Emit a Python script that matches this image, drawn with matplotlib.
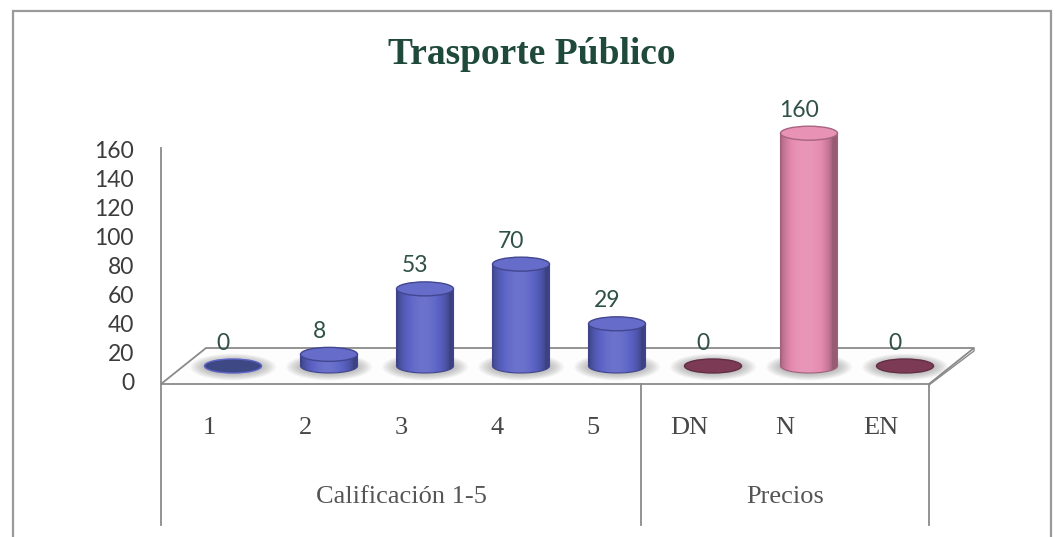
import numpy as np
import matplotlib
matplotlib.use("Agg")
import matplotlib.pyplot as plt
from matplotlib.patches import Ellipse, Polygon, Rectangle, PathPatch
from matplotlib.path import Path
import matplotlib.colors as mcolors

# ---- data -------------------------------------------------------------
categories = ["1", "2", "3", "4", "5", "DN", "N", "EN"]
values = [0, 8, 53, 70, 29, 0, 160, 0]
group_names = ["Calificación 1-5", "Precios"]
group_sizes = [5, 3]
y_ticks = [0, 20, 40, 60, 80, 100, 120, 140, 160]
title = "Trasporte Público"

# ---- canvas / coordinate helpers -------------------------------------
W, H = 1057, 537
fig = plt.figure(figsize=(W / 100, H / 100), dpi=100)
fig.patch.set_facecolor("white")
ax = fig.add_axes([0, 0, 1, 1])
ax.set_axis_off()

X0, DXP = 209.0, 96.0      # pixel x of first category, pixels per category
Y0, DYP = 384.0, 1.455     # pixel y of value 0, pixels per value unit


def px(x):
    return (x - X0) / DXP


def py(y):
    return (Y0 - y) / DYP


def pw(w):
    return w / DXP


def ph(h):
    return h / DYP


XLIM = (px(0), px(W))
YLIM = (py(H), py(0))

n = len(categories)
left_edge, right_edge = -0.5, n - 0.5
depth_x, depth_y = pw(45), ph(36)

line_col = "#8a8a8a"

# ---- floor -----------------------------------------------------------
floor = Polygon([(left_edge, 0), (left_edge + depth_x, depth_y),
                 (right_edge + depth_x, depth_y), (right_edge, 0)],
                closed=True, facecolor="#fdfdfd", edgecolor=line_col,
                linewidth=1.3, zorder=1)
ax.add_patch(floor)
# thin slab edge at the right end of the floor
ax.plot([right_edge + depth_x, right_edge + depth_x, right_edge],
        [depth_y, depth_y - ph(3), -ph(1)], color=line_col, lw=1.0, zorder=1)

# vertical axis line and category separators
ax.plot([left_edge, left_edge], [py(148), py(525)], color=line_col, lw=1.3, zorder=2)
bounds = np.cumsum(group_sizes) - 0.5
for b in bounds:
    ax.plot([b, b], [0, py(525)], color=line_col, lw=1.3, zorder=2)

# y tick labels
num_font = "Lato"
for t in y_ticks:
    ax.text(px(134), t, str(t), ha="right", va="center", fontsize=16.5,
            family=num_font, color="#3c3c3c")

# category labels
serif = "Liberation Serif"
for i, c in enumerate(categories):
    ax.text(i, py(434), c, ha="center", va="baseline", fontsize=19,
            family=serif, color="#474747")
start = 0
for g, size in zip(group_names, group_sizes):
    ax.text(start + (size - 1) / 2, py(503), g, ha="center", va="baseline",
            fontsize=19, family=serif, color="#555555")
    start += size

# ---- cylinders ---------------------------------------------------------
shift_x = pw(24)
base = ph(18)
cw = pw(57)
eh = ph(14)

blue = mcolors.to_rgb("#5b63c6")
pink = mcolors.to_rgb("#e68bb0")
blue_dark = mcolors.to_rgb("#3e4884")
pink_dark = mcolors.to_rgb("#7c3a55")

group_of = []
for gi, size in enumerate(group_sizes):
    group_of += [gi] * size


def shade_strip(rgb, m=96):
    t = np.linspace(0, 1, m)
    f = 0.66 + 0.44 * np.sin(np.pi * np.clip(t * 1.08, 0, 1)) ** 0.6
    rgb = np.array(rgb)
    col = np.where(f[:, None] <= 1, rgb[None, :] * f[:, None],
                   rgb[None, :] + (1 - rgb[None, :]) * (f[:, None] - 1))
    return np.clip(col, 0, 1)[None, :, :]


def lighten(rgb, k):
    rgb = np.array(rgb)
    return tuple(rgb + (1 - rgb) * k)


def darken(rgb, k):
    return tuple(np.array(rgb) * (1 - k))


for i, v in enumerate(values):
    xc = i + shift_x
    a, b = cw / 2, eh / 2
    main = blue if group_of[i] == 0 else pink
    dark = blue_dark if group_of[i] == 0 else pink_dark

    # soft shadow on the floor
    for s in np.linspace(1.5, 1.05, 8):
        ax.add_patch(Ellipse((xc, base - ph(1)), cw * s, eh * (1 + (s - 1) * 1.8),
                             facecolor="#6a6a6a", edgecolor="none",
                             alpha=0.06, zorder=3))

    if v == 0:
        ax.add_patch(Ellipse((xc, base), cw, eh, facecolor=dark,
                             edgecolor=lighten(main, 0.0) if group_of[i] == 0 else darken(dark, 0.2),
                             lw=1.0, zorder=4))
    else:
        top = base + v
        theta = np.linspace(0, -np.pi, 60)
        verts = [(xc - a, top), (xc + a, top)]
        verts += [(xc + a * np.cos(t), base + b * np.sin(t)) for t in theta]
        verts.append((xc - a, top))
        clip = Path(verts, closed=True)
        body = PathPatch(clip, facecolor="none", edgecolor="none")
        ax.add_patch(body)
        im = ax.imshow(shade_strip(main), extent=[xc - a, xc + a, base - b, top],
                       aspect="auto", zorder=4, interpolation="bilinear")
        im.set_clip_path(body)
        ax.add_patch(PathPatch(clip, facecolor="none",
                               edgecolor=darken(main, 0.3), lw=0.8, zorder=5))
        ax.add_patch(Ellipse((xc, top), cw, eh, facecolor=lighten(main, 0.06),
                             edgecolor=darken(main, 0.28), lw=1.0, zorder=6))
    label_y = base + v + eh / 2 + ph(16)
    ax.text(xc - pw(10), label_y, str(v), ha="center", va="center",
            fontsize=16.5, family=num_font, color="#2f5148", zorder=7)

# ---- title and frame ----------------------------------------------------
fig.text(532 / W, 1 - 55 / H, title, ha="center", va="center", fontsize=27,
         family=serif, fontweight="bold", color="#1f4a3b")

fig.add_artist(Rectangle((13 / W, 1 - 545 / H), (1051 - 13) / W, (545 - 11) / H,
                         transform=fig.transFigure, fill=False,
                         edgecolor="#9a9a9a", lw=1.6))

ax.set_xlim(*XLIM)
ax.set_ylim(*YLIM)

fig.savefig("out.png", dpi=100, facecolor="white")
